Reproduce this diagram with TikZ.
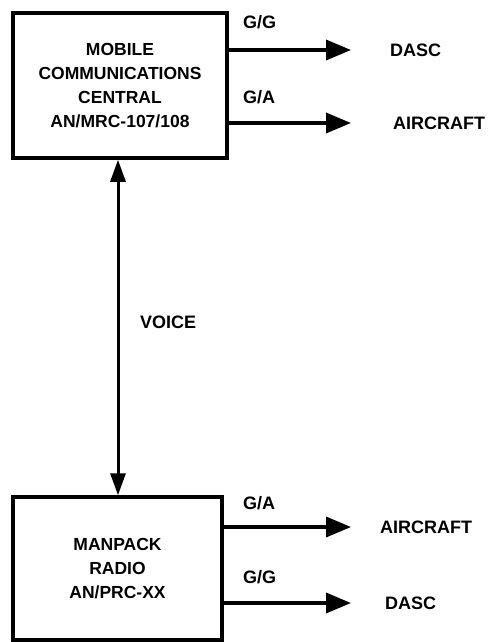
\documentclass[tikz,border=0pt]{standalone}
\usepackage{fontspec}
\setmainfont{Liberation Sans}
\usetikzlibrary{arrows.meta}
\begin{document}
\begin{tikzpicture}[x=1pt,y=-1pt,
  blk/.style={draw,line width=3.5pt,inner sep=0pt,align=center,
    font=\fontsize{17.5}{24}\selectfont\bfseries},
  lbl/.style={anchor=west,inner sep=0pt,font=\fontsize{18}{20}\selectfont\bfseries},
  link/.style={line width=3.5pt,-{Triangle[length=25pt,width=20pt]}},
  vlink/.style={line width=3pt,{Triangle[length=22pt,width=15pt]}-{Triangle[length=22pt,width=15pt]}}]
\useasboundingbox (0,0) rectangle (489,642);
\node[blk,minimum width=214pt,minimum height=145pt] (top) at (120,85.5)
  {MOBILE\\COMMUNICATIONS\\CENTRAL\\AN/MRC-107/108};
\node[blk,minimum width=209pt,minimum height=143pt] (bot) at (117.5,568.5)
  {MANPACK\\RADIO\\AN/PRC-XX};
% outgoing arrows
\coordinate (e1) at (351,50);
\coordinate (e2) at (351,123);
\coordinate (e3) at (351,527);
\coordinate (e4) at (351,603);
\draw[link] (top.east |- e1) -- (e1);
\draw[link] (top.east |- e2) -- (e2);
\draw[link] (bot.east |- e3) -- (e3);
\draw[link] (bot.east |- e4) -- (e4);
\node[lbl] (l1) at (243,22) {G/G};
\node[lbl] (l2) at (243,97) {G/A};
\node[lbl] (l3) at (243,503) {G/A};
\node[lbl] (l4) at (243,577) {G/G};
\node[lbl] (d1) at (390,50) {DASC};
\node[lbl] (a1) at (393,123) {AIRCRAFT};
\node[lbl] (a2) at (380,527) {AIRCRAFT};
\node[lbl] (d2) at (385,603) {DASC};
% voice link
\coordinate (v) at (118,0);
\draw[vlink] (top.south -| v) -- (bot.north -| v);
\node[lbl] (voice) at (140,322) {VOICE};
\end{tikzpicture}
\end{document}
